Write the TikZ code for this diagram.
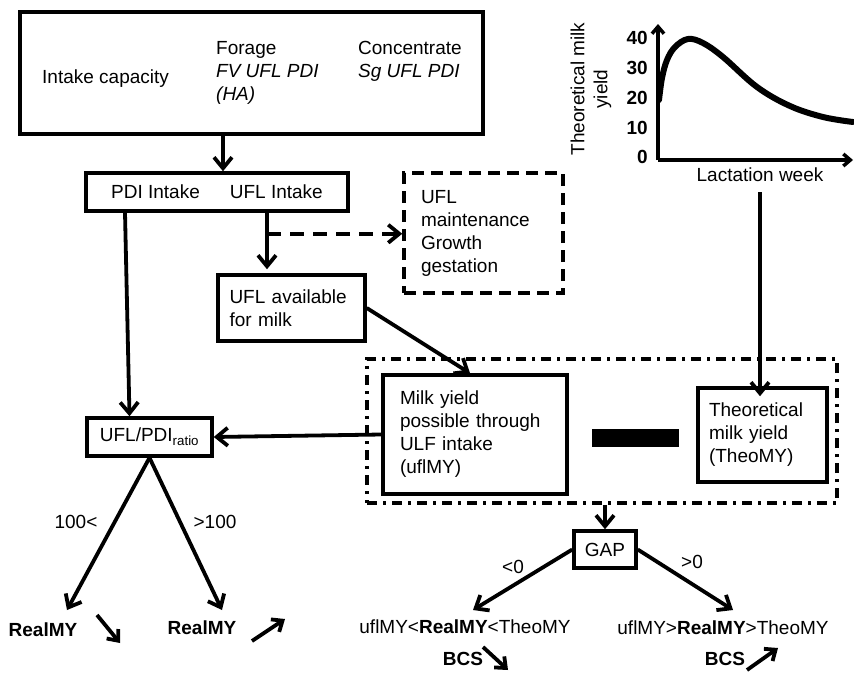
\documentclass[tikz,border=0pt]{standalone}
\usepackage{fontspec}
\setmainfont{Liberation Sans}
\usetikzlibrary{arrows.meta,calc}
\tikzset{
  txt/.style={font=\fontsize{19}{23}\selectfont, inner sep=0pt},
  box/.style={draw, line width=3.5pt, inner sep=0pt, font=\fontsize{19}{23}\selectfont, align=left},
  dbox/.style={box, dash pattern=on 12pt off 7pt},
  ddbox/.style={draw, line width=3.5pt, dash pattern=on 10pt off 6pt on 3pt off 6pt},
  arr/.style={line width=3.8pt, -{Straight Barb[length=11pt,width=18pt]}},
  sarr/.style={line width=3.8pt, -{Straight Barb[length=9pt,width=15pt]}},
  aarr/.style={line width=3.5pt, -{Straight Barb[length=7pt,width=12pt]}},
}
\begin{document}
\begin{tikzpicture}[x=1pt,y=-1pt]
\useasboundingbox (0,0) rectangle (854,673);
% top box
\node[box, minimum width=463pt, minimum height=122pt] (top) at (251.5,73) {};
\node[txt, anchor=base west] (cap) at (42,83) {Intake capacity};
\node[txt, align=left, anchor=north west] (forage) at (216,41) {Forage\\\textit{FV UFL PDI}\\\textit{(HA)}};
\node[txt, align=left, anchor=north west] (conc) at (358,41) {Concentrate\\\textit{Sg UFL PDI}};
% intakes
\node[box, minimum width=262pt, minimum height=38pt] (intakes) at (217,192) {PDI Intake\hspace{30pt}UFL Intake};
\coordinate (a1) at ([xshift=-28.5pt]top.south);
\draw[arr] (a1) -- (a1 |- intakes.north);
% maintenance
\node[dbox, minimum width=159pt, minimum height=120pt, text width=125pt, inner xsep=17pt] (maint) at (483.5,233) {UFL\\maintenance\\Growth\\gestation};
% UFL available
\node[box, minimum width=147pt, minimum height=66pt, text width=124pt, inner xsep=11.5pt] (ufl) at (291.5,308) {UFL available\\for milk};
\coordinate (us) at ([xshift=50pt]intakes.south);
\draw[arr, shorten >=4pt] (us) -- (us |- ufl.north);
\coordinate (br) at ([yshift=-21pt]us);
\draw[line width=3.8pt, dash pattern=on 14pt off 9pt, -{Straight Barb[length=11pt,width=18pt]}] (br) -- (br -| maint.west);
% difference group
\node[ddbox, minimum width=470pt, minimum height=144pt] (diff) at (602,431) {};
\node[box, minimum width=184pt, minimum height=119pt, text width=150pt, inner xsep=17pt] (milk) at (475,434.5) {Milk yield\\possible through\\ULF intake\\(uflMY)};
\node[box, minimum width=129pt, minimum height=94pt, text width=107pt, inner xsep=11pt] (theo) at (762.5,435) {Theoretical\\milk yield\\(TheoMY)};
\node[fill=black, inner sep=0pt, minimum width=87pt, minimum height=18pt] (minus) at (635.5,438) {};
\draw[arr] (ufl.east) -- ([xshift=-5pt]milk.north);
% ratio
\node[box, minimum width=125pt, minimum height=38pt] (ratio) at (149.5,437) {UFL/PDI\textsubscript{ratio}};
\draw[arr] ([xshift=-92pt]intakes.south) -- ([xshift=-20pt]ratio.north);
\draw[arr] (milk.west) -- (ratio.east);
% ratio branches
\node[txt] (real1) at (43,630) {\textbf{RealMY}};
\node[txt] (real2) at (202,628) {\textbf{RealMY}};
\coordinate (t1) at (67,610);
\coordinate (t2) at (222,610);
\draw[arr] (ratio.south) -- (t1);
\draw[arr] (ratio.south) -- (t2);
\node[txt] (l100a) at (76,522) {100<};
\node[txt] (l100b) at (215,522) {>100};
\coordinate (d1s) at (97,615); \coordinate (d1e) at (120,643);
\coordinate (u1s) at (252,641); \coordinate (u1e) at (285,619);
\draw[sarr] (d1s) -- (d1e);
\draw[sarr] (u1s) -- (u1e);
% GAP
\node[box, minimum width=62pt, minimum height=37pt, align=center] (gap) at (605,549.5) {GAP};
\draw[arr] (gap.north |- diff.south) -- (gap.north);
\node[txt] (res1) at (465,627) {uflMY<\textbf{RealMY}<TheoMY};
\node[txt] (res2) at (723,628) {uflMY>\textbf{RealMY}>TheoMY};
\coordinate (g1) at (473,610);
\coordinate (g2) at (733,610);
\draw[arr] (gap.west) -- (g1);
\draw[arr] (gap.east) -- (g2);
\node[txt] (lneg) at (513,567) {<0};
\node[txt] (lpos) at (692,562) {>0};
\node[txt] (bcs1) at (463,659) {\textbf{BCS}};
\node[txt] (bcs2) at (725,659) {\textbf{BCS}};
\coordinate (d2s) at (483,647); \coordinate (d2e) at (508,670);
\coordinate (u2s) at (747,670); \coordinate (u2e) at (778,648);
\draw[sarr] (d2s) -- (d2e);
\draw[sarr] (u2s) -- (u2e);
% chart
\coordinate (o) at (658,160);
\draw[aarr] (o) -- (658,24);
\draw[aarr] (o) -- (853,160);
\draw[line width=6pt, line cap=round] plot[smooth, tension=0.6] coordinates {(659,100) (662,78) (667,60) (675,47) (688,39) (703,43) (723,57) (757,87) (790,106) (823,117) (853,122)};
\node[txt, anchor=east] (t0) at (648,157) {\textbf{0}};
\node[txt, anchor=east] (t10) at (648,128) {\textbf{10}};
\node[txt, anchor=east] (t20) at (648,98) {\textbf{20}};
\node[txt, anchor=east] (t30) at (648,68) {\textbf{30}};
\node[txt, anchor=east] (t40) at (648,38) {\textbf{40}};
\node[txt, rotate=90, align=center] (ylab) at (591,89) {Theoretical milk\\yield};
\node[txt] (lact) at (760,175) {Lactation week};
\draw[arr] ([yshift=-10pt]lact.south) -- ([yshift=-10pt]lact.south |- theo.north);
\end{tikzpicture}
\end{document}
